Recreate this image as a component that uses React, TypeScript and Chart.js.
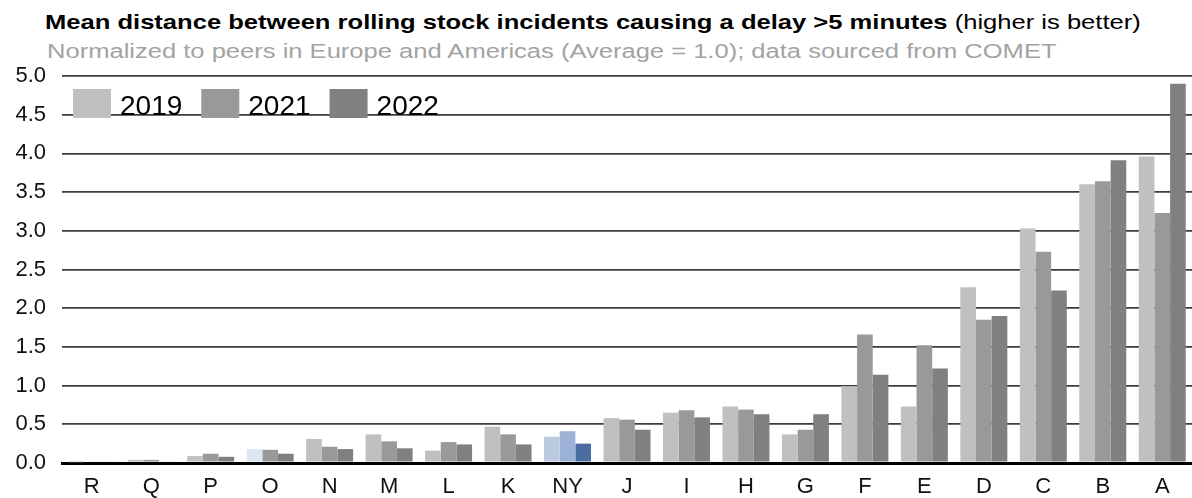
import React, { useEffect, useRef } from "react";
import { Chart, registerables } from "chart.js";

Chart.register(...registerables);

const categories = ["R", "Q", "P", "O", "N", "M", "L", "K", "NY", "J", "I", "H", "G", "F", "E", "D", "C", "B", "A"];
const seriesLabels = ["2019", "2021", "2022"];
const values2019 = [0.01, 0.04, 0.09, 0.18, 0.31, 0.37, 0.16, 0.47, 0.34, 0.58, 0.65, 0.73, 0.37, 0.99, 0.73, 2.27, 3.03, 3.60, 3.96];
const values2021 = [0.02, 0.04, 0.12, 0.17, 0.21, 0.28, 0.27, 0.37, 0.41, 0.56, 0.68, 0.69, 0.43, 1.66, 1.52, 1.85, 2.73, 3.64, 3.23];
const values2022 = [0.02, 0.02, 0.08, 0.12, 0.18, 0.19, 0.24, 0.24, 0.25, 0.43, 0.59, 0.63, 0.63, 1.14, 1.22, 1.90, 2.23, 3.91, 4.90];
const yTicks = [0, 0.5, 1, 1.5, 2, 2.5, 3, 3.5, 4, 4.5, 5];

const baseColors = ["#c0c0c0", "#999999", "#808080"];
const highlightCategory = "NY";
const highlightColors = ["#bccae0", "#9bb1d6", "#4a6da2"];
const paleCategory = "O";
const paleColor2019 = "#dde6f2";

const titleBold = "Mean distance between rolling stock incidents causing a delay >5 minutes";
const titleNormal = " (higher is better)";
const subtitle = "Normalized to peers in Europe and Americas (Average = 1.0); data sourced from COMET";

const FONT = "'Liberation Sans', Arial, sans-serif";

function colorsFor(seriesIndex: number): string[] {
  return categories.map((c) => {
    if (c === highlightCategory) return highlightColors[seriesIndex];
    if (c === paleCategory && seriesIndex === 0) return paleColor2019;
    return baseColors[seriesIndex];
  });
}

const legendPlugin = {
  id: "insideLegend",
  afterDatasetsDraw(chart: any) {
    const { ctx, chartArea } = chart;
    ctx.save();
    ctx.font = `28px ${FONT}`;
    ctx.textBaseline = "alphabetic";
    let x = chartArea.left + 11;
    const y = chartArea.top + 13;
    seriesLabels.forEach((label, i) => {
      ctx.fillStyle = baseColors[i];
      ctx.fillRect(x, y, 38, 29);
      ctx.fillStyle = "#000";
      const tx = x + 47;
      ctx.fillText(label, tx, y + 26);
      x = tx + ctx.measureText(label).width + 19;
    });
    ctx.restore();
  },
};

export default function App() {
  const ref = useRef<HTMLCanvasElement | null>(null);
  useEffect(() => {
    document.body.style.margin = "0";
    const canvas = ref.current;
    if (!canvas) return;
    const datasets = [values2019, values2021, values2022].map((vals, i) => ({
      label: seriesLabels[i],
      data: vals,
      backgroundColor: colorsFor(i),
      borderWidth: 0,
      categoryPercentage: 0.79,
      barPercentage: 1.0,
    }));
    const chart = new Chart(canvas, {
      type: "bar",
      data: { labels: categories, datasets },
      options: {
        animation: false,
        responsive: false,
        maintainAspectRatio: false,
        layout: { padding: { top: 76, left: 6, right: 0, bottom: 0 } },
        plugins: {
          legend: { display: false },
          title: { display: false },
          tooltip: { enabled: false },
        },
        scales: {
          x: {
            afterFit: (axis: any) => {
              axis.height = 35;
            },
            grid: { display: false, drawTicks: false },
            border: { display: true, color: "#000", width: 3 },
            ticks: { color: "#111", font: { family: FONT, size: 22, lineHeight: 1.2 }, padding: 11 },
          },
          y: {
            min: 0,
            max: 5,
            afterFit: (axis: any) => {
              axis.width = 56;
            },
            afterBuildTicks: (axis: any) => {
              axis.ticks = yTicks.map((v) => ({ value: v }));
            },
            grid: {
              drawTicks: false,
              color: (ctx: any) => (ctx.tick && ctx.tick.value === 0 ? "#000" : "#3c3c3c"),
              lineWidth: (ctx: any) => (ctx.tick && ctx.tick.value === 0 ? 3 : 1.7),
            },
            border: { display: false },
            ticks: {
              color: "#111",
              font: { family: FONT, size: 22 },
              padding: 16,
              callback: (v: any) => Number(v).toFixed(1),
            },
          },
        },
      },
      plugins: [legendPlugin],
    });
    return () => chart.destroy();
  }, []);

  return (
    <div style={{ position: "relative", width: 1192, height: 498, background: "#fff", overflow: "hidden" }}>
      <div
        style={{
          position: "absolute",
          left: 45,
          top: 11,
          fontFamily: FONT,
          fontSize: 21,
          color: "#000",
          whiteSpace: "nowrap",
          lineHeight: "21px",
          transform: "scaleX(1.217)",
          transformOrigin: "0 0",
        }}
      >
        <span style={{ fontWeight: "bold" }}>{titleBold}</span>
        <span>{titleNormal}</span>
      </div>
      <div
        style={{
          position: "absolute",
          left: 47,
          top: 41,
          fontFamily: FONT,
          fontSize: 20,
          color: "#a3a3a3",
          whiteSpace: "nowrap",
          lineHeight: "20px",
          transform: "scaleX(1.277)",
          transformOrigin: "0 0",
        }}
      >
        {subtitle}
      </div>
      <canvas ref={ref} width={1192} height={498} style={{ position: "absolute", left: 0, top: 0 }} />
    </div>
  );
}
